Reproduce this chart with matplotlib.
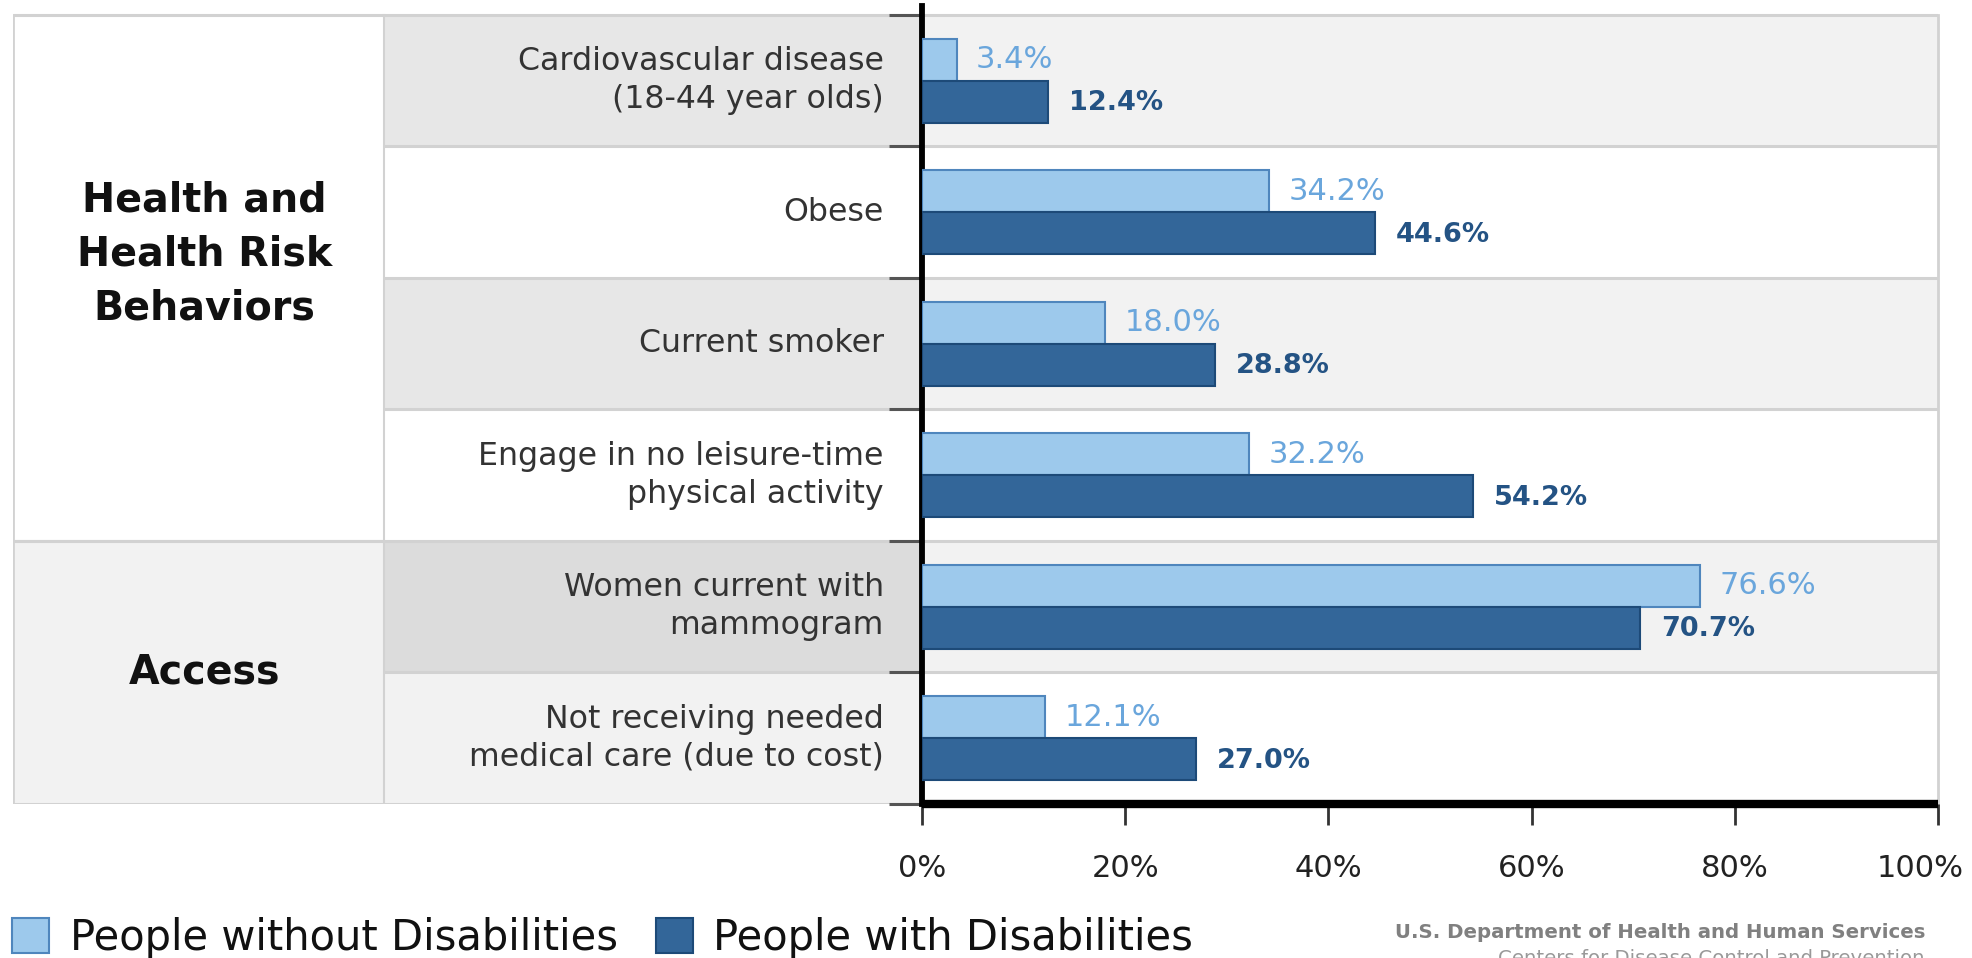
import matplotlib
matplotlib.use("Agg")
import matplotlib.pyplot as plt
from matplotlib.patches import Rectangle, Patch
from matplotlib.transforms import ScaledTranslation

plt.rcParams['font.family'] = ['DejaVu Sans']

# ---- data ----
categories = [
    "Cardiovascular disease\n(18-44 year olds)",
    "Obese",
    "Current smoker",
    "Engage in no leisure-time\nphysical activity",
    "Women current with\nmammogram",
    "Not receiving needed\nmedical care (due to cost)",
]
without_dis = [3.4, 34.2, 18.0, 32.2, 76.6, 12.1]
with_dis = [12.4, 44.6, 28.8, 54.2, 70.7, 27.0]
groups = ["Health and\nHealth Risk\nBehaviors", "Access"]
group_rows = [(0, 4), (4, 6)]
series_names = ["People without Disabilities", "People with Disabilities"]
xticks = [0, 20, 40, 60, 80, 100]
xticklabels = ["0%", "20%", "40%", "60%", "80%", "100%"]

# ---- styles ----
W, H = 1972, 958
LIGHT = "#9dc9ec"
LIGHT_EDGE = "#4f86bd"
DARK = "#336699"
DARK_EDGE = "#1d4a78"
LIGHT_TXT = "#6aa6dc"
DARK_TXT = "#245384"
GRID = "#d2d2d2"

fig = plt.figure(figsize=(W / 100, H / 100), dpi=100)

def fr(x0, y0, x1, y1):
    return [x0 / W, 1 - y1 / H, (x1 - x0) / W, (y1 - y0) / H]

n = len(categories)
YTOP = -0.07
TOPPX = 15 + YTOP * (804 - 15) / n
AX0 = 922
AX1 = 1938

# label axes
lax = fig.add_axes(fr(13, TOPPX, AX0, 804))
lax.set_xlim(0, 1)
lax.set_ylim(n, YTOP)
lax.axis('off')
div = (384 - 13) / (AX0 - 13)

label_bg = ["#e7e7e7", "#ffffff", "#e7e7e7", "#ffffff", "#dcdcdc", "#f2f2f2"]
group_bg = ["#ffffff", "#f2f2f2"]
for i in range(n):
    lax.add_patch(Rectangle((div, i), 1 - div, 1, facecolor=label_bg[i], edgecolor='none', zorder=0))
for g, (a, b) in enumerate(group_rows):
    lax.add_patch(Rectangle((0, a), div, b - a, facecolor=group_bg[g], edgecolor='none', zorder=0))
    lax.text(0.211, (a + b) / 2 - (0.18 if b - a > 2 else 0), groups[g], ha='center', va='center',
             fontsize=28.5, fontweight='bold', color='#111111', linespacing=1.45, zorder=3)
for i in range(n + 1):
    lax.plot([div, 1], [i, i], color=GRID, lw=2.2, zorder=1, solid_capstyle='butt')
for a, b in group_rows:
    lax.plot([0, div], [a, a], color=GRID, lw=2.2, zorder=1, solid_capstyle='butt')
    lax.plot([0, div], [b, b], color=GRID, lw=2.2, zorder=1, solid_capstyle='butt')
lax.plot([0, 0], [0, n], color=GRID, lw=2, zorder=1)
lax.plot([div, div], [0, n], color=GRID, lw=1.5, zorder=1)
for i, c in enumerate(categories):
    lax.text(0.958, i + 0.5, c, ha='right', va='center', fontsize=22.8, color='#333333',
             linespacing=1.3, zorder=3)

# main axes
ax = fig.add_axes(fr(AX0, TOPPX, AX1, 804))
ax.set_xlim(0, 100)
ax.set_ylim(n, YTOP)
chart_bg = ["#f2f2f2", "#ffffff", "#f2f2f2", "#ffffff", "#f2f2f2", "#ffffff"]
for i in range(n):
    ax.axhspan(i, i + 1, facecolor=chart_bg[i], edgecolor='none', zorder=0)
    ax.axhline(i, color=GRID, lw=2.2, zorder=1)
ax.plot([100, 100], [0, n], color=GRID, lw=2, zorder=1, clip_on=False)

h = 0.32
ys = [i + 0.5 for i in range(n)]
b1 = ax.barh([y - h / 2 for y in ys], without_dis, height=h, color=LIGHT, edgecolor=LIGHT_EDGE,
             linewidth=1.5, zorder=3, label=series_names[0])
b2 = ax.barh([y + h / 2 for y in ys], with_dis, height=h, color=DARK, edgecolor=DARK_EDGE,
             linewidth=1.5, zorder=3, label=series_names[1])
for y, v in zip(ys, without_dis):
    ax.annotate(f"{v:.1f}%", (v, y - h / 2), xytext=(14, 0), textcoords='offset points',
                ha='left', va='center', fontsize=22, color=LIGHT_TXT, zorder=4)
for y, v in zip(ys, with_dis):
    ax.annotate(f"{v:.1f}%", (v, y + h / 2), xytext=(15, -1), textcoords='offset points',
                ha='left', va='center', fontsize=19.5, color=DARK_TXT, fontweight='bold', zorder=4)

for s in ['top', 'right']:
    ax.spines[s].set_visible(False)
ax.spines['left'].set_linewidth(4.2)
ax.spines['left'].set_color('black')
ax.spines['bottom'].set_linewidth(6)
ax.spines['bottom'].set_color('black')
ax.spines['bottom'].set_capstyle('butt')
ax.set_xticks(xticks)
ax.set_xticklabels(xticklabels)
ax.tick_params(axis='x', direction='out', length=15, width=2, color='#333333', pad=21,
               labelsize=22, labelcolor='#222222')
last = ax.get_xticklabels()[-1]
last.set_transform(last.get_transform() + ScaledTranslation(-18 / 100, 0, fig.dpi_scale_trans))
ax.set_yticks(range(n + 1))
ax.set_yticklabels([])
ax.tick_params(axis='y', direction='out', length=24, width=2.2, color='#555555')

# legend
leg = fig.legend(handles=[Patch(facecolor=LIGHT, edgecolor=LIGHT_EDGE, lw=1.5),
                          Patch(facecolor=DARK, edgecolor=DARK_EDGE, lw=1.5)],
                 labels=series_names, loc='center left', bbox_to_anchor=(12 / W, 1 - 938 / H),
                 ncol=2, frameon=False, fontsize=30, handlelength=0.88, handleheight=0.9,
                 handletextpad=0.5, columnspacing=0.92, borderpad=0, borderaxespad=0)
for t in leg.get_texts():
    t.set_color('#111111')

fig.text(1925 / W, 1 - 932 / H, "U.S. Department of Health and Human Services", ha='right',
         va='center', fontsize=14.2, fontweight='bold', color='#808080')
fig.text(1925 / W, 1 - 959 / H, "Centers for Disease Control and Prevention", ha='right',
         va='center', fontsize=14.2, color='#999999')

fig.savefig("out.png", dpi=100, facecolor='white')
